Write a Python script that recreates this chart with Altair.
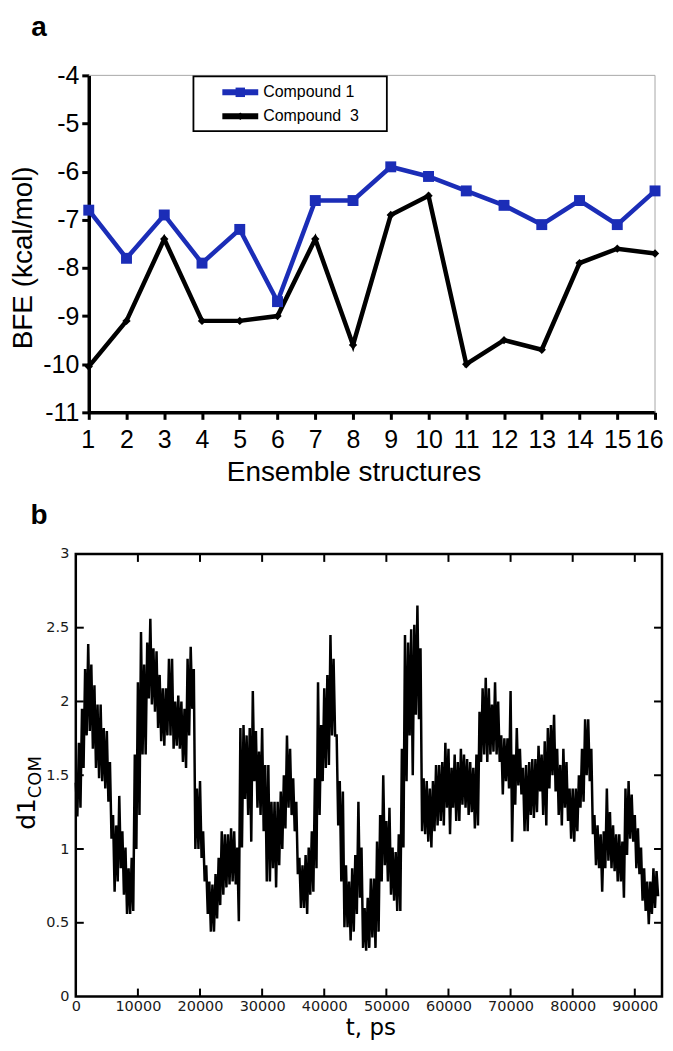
import altair as alt
import pandas as pd

# ---------------- panel a data ----------------
structures = list(range(1, 17))
compound1_bfe = [-6.8, -7.8, -6.9, -7.9, -7.2, -8.7, -6.6, -6.6,
                 -5.9, -6.1, -6.4, -6.7, -7.1, -6.6, -7.1, -6.4]
compound3_bfe = [-10.05, -9.1, -7.4, -9.1, -9.1, -9.0, -7.4, -9.6,
                 -6.9, -6.5, -10.0, -9.5, -9.7, -7.9, -7.6, -7.7]
series_names = ["Compound 1", "Compound\u00a0 3"]
series_colors = ["#1b2db7", "#000000"]
series_shapes = ["square", "diamond"]
bfe_ticks = [-4, -5, -6, -7, -8, -9, -10, -11]

# ---------------- panel b data ----------------
# d1_COM trace every 250 ps (alternating upper / lower excursions)
d1_com = [
    1.45, 1.22, 1.72, 1.28, 1.95, 1.55, 2.22, 1.77, 2.39, 1.80, 2.25, 1.68, 2.11, 1.55, 1.98, 1.48, 1.98, 1.46, 1.82, 1.41,
    1.80, 1.32, 1.59, 1.07, 1.23, 0.71, 1.16, 0.78, 1.36, 0.87, 1.12, 0.69, 1.01, 0.56, 0.87, 0.56, 0.94, 0.58, 1.64, 1.00,
    2.13, 1.23, 2.47, 1.64, 2.25, 1.64, 2.40, 2.02, 2.56, 1.98, 2.36, 1.93, 2.34, 1.82, 2.18, 1.73, 2.09, 1.70, 2.09, 1.77,
    2.29, 1.77, 2.29, 1.68, 2.00, 1.70, 2.04, 1.68, 2.00, 1.59, 1.95, 1.55, 2.29, 1.77, 2.37, 1.95, 2.22, 1.00, 1.41, 1.00,
    1.46, 0.94, 1.12, 0.78, 0.89, 0.56, 0.78, 0.44, 0.76, 0.44, 0.83, 0.53, 0.94, 0.62, 1.12, 0.69, 1.10, 0.74, 1.10, 0.76,
    1.14, 0.78, 1.12, 0.76, 1.01, 0.51, 1.82, 1.01, 1.84, 1.34, 1.77, 1.23, 1.82, 1.05, 2.07, 1.46, 1.80, 1.28, 1.66, 1.23,
    1.82, 1.12, 1.57, 0.78, 1.57, 0.78, 1.32, 0.87, 1.32, 0.74, 1.32, 0.89, 1.39, 1.00, 1.50, 1.14, 1.77, 1.28, 1.68, 1.23,
    1.48, 1.12, 1.32, 0.83, 0.94, 0.60, 0.89, 0.60, 0.96, 0.56, 1.01, 0.69, 1.12, 0.71, 1.48, 0.87, 2.13, 1.23, 1.84, 1.46,
    2.09, 1.55, 2.18, 1.57, 2.45, 1.77, 2.29, 1.77, 1.77, 1.16, 1.46, 0.78, 1.39, 0.47, 0.89, 0.47, 0.78, 0.38, 0.87, 0.44,
    0.96, 0.56, 1.32, 0.67, 1.01, 0.33, 0.60, 0.31, 0.67, 0.33, 0.80, 0.40, 0.80, 0.33, 1.05, 0.44, 1.23, 0.78, 1.50, 0.89,
    1.19, 0.78, 1.28, 0.69, 1.01, 0.65, 0.98, 0.58, 1.10, 0.58, 1.68, 1.01, 2.45, 1.46, 2.40, 1.77, 2.49, 1.50, 2.52, 1.91,
    2.65, 1.88, 2.36, 1.12, 1.48, 1.10, 1.46, 1.05, 1.41, 1.01, 1.46, 1.12, 1.57, 1.16, 1.57, 1.19, 1.59, 1.16, 1.72, 1.28,
    1.68, 1.10, 1.55, 1.28, 1.64, 1.19, 1.59, 1.19, 1.68, 1.30, 1.64, 1.28, 1.61, 1.23, 1.59, 1.25, 1.55, 1.14, 1.64, 1.16,
    1.93, 1.59, 2.09, 1.64, 2.16, 1.59, 2.09, 1.64, 1.98, 1.66, 2.13, 1.64, 2.00, 1.59, 1.77, 1.37, 1.75, 1.46, 1.75, 1.41,
    2.07, 1.05, 1.64, 1.30, 1.82, 1.43, 1.68, 1.37, 1.55, 1.12, 1.57, 1.12, 1.59, 1.23, 1.61, 1.21, 1.61, 1.25, 1.70, 1.39,
    1.64, 1.23, 1.73, 1.16, 1.82, 1.41, 1.84, 1.50, 1.91, 1.39, 1.68, 1.23, 1.57, 1.16, 1.68, 1.28, 1.59, 1.19, 1.41, 1.07,
    1.41, 1.05, 1.41, 1.12, 1.50, 1.28, 1.68, 1.32, 1.88, 1.50, 1.88, 1.46, 1.68, 1.10, 1.23, 0.89, 1.16, 0.87, 1.10, 0.71,
    1.12, 0.87, 1.41, 0.92, 1.25, 0.87, 1.16, 0.85, 1.10, 0.78, 1.10, 0.78, 1.05, 0.67, 1.41, 0.96, 1.46, 1.07, 1.37, 1.05,
    1.23, 0.87, 1.14, 0.83, 1.01, 0.65, 0.87, 0.58, 0.78, 0.49, 0.78, 0.56, 0.87, 0.60, 0.85, 0.68,
]
sample_step_ps = 250
t_tick_values = [0, 10000, 20000, 30000, 40000, 50000, 60000, 70000, 80000, 90000]
d1_tick_values = [0, 0.5, 1, 1.5, 2, 2.5, 3]
t_axis_max = 94380

# ---------------- sizes (both panels share the same left plot edge) ----------------
W1, H1 = 581, 338      # panel a group; its x range starts 13 px in
XA0 = 13
W2, H2 = 588, 444

one = pd.DataFrame({"k": [0]})

# ================= panel a =================
df_a = pd.DataFrame({
    "structure": structures * 2,
    "bfe": compound1_bfe + compound3_bfe,
    "series": [series_names[0]] * len(structures) + [series_names[1]] * len(structures),
})

xa = alt.X("structure:Q",
           scale=alt.Scale(domain=[1, 16], range=[XA0, W1], nice=False, zero=False),
           axis=alt.Axis(values=structures, title=None, grid=False, format="d",
                         labelFont="Liberation Sans", labelFontSize=25, labelColor="black",
                         labelPadding=8, labelFlush=True, labelFlushOffset=8, labelOverlap=False,
                         domainColor="black", domainWidth=3.5,
                         tickColor="black", tickWidth=3, tickSize=7))
ya = alt.Y("bfe:Q",
           scale=alt.Scale(domain=[-11, -4], nice=False, zero=False),
           axis=alt.Axis(values=bfe_ticks, title=None, grid=False, offset=-XA0,
                         labelExpr="'' + datum.value",
                         labelFont="Liberation Sans", labelFontSize=25, labelColor="black",
                         labelPadding=3, labelOverlap=False,
                         domainColor="black", domainWidth=3.5,
                         tickColor="black", tickWidth=3, tickSize=7))

color_a = alt.Color("series:N", scale=alt.Scale(domain=series_names, range=series_colors), legend=None)

frame_top = alt.Chart(one).mark_rule(color="#a8a8a8", strokeWidth=1).encode(
    x=alt.value(XA0), x2=alt.value(W1), y=alt.value(0))
frame_right = alt.Chart(one).mark_rule(color="#a8a8a8", strokeWidth=1).encode(
    x=alt.value(W1), y=alt.value(0), y2=alt.value(H1))

lines_a = alt.Chart(df_a).mark_line(strokeWidth=4.5).encode(x=xa, y=ya, color=color_a)
pts1 = alt.Chart(df_a).transform_filter(alt.datum.series == series_names[0]).mark_point(
    shape=series_shapes[0], filled=True, size=120, opacity=1, color=series_colors[0]).encode(x=xa, y=ya)
pts3 = alt.Chart(df_a).transform_filter(alt.datum.series == series_names[1]).mark_point(
    shape=series_shapes[1], filled=True, size=70, opacity=1, color=series_colors[1]).encode(x=xa, y=ya)

# legend box
leg_box = alt.Chart(one).mark_rect(fill="white", stroke="black", strokeWidth=1.8).encode(
    x=alt.value(118), x2=alt.value(312), y=alt.value(1), y2=alt.value(56))
leg_layers = [leg_box]
leg_rows = [17, 41]
leg_sizes = [90, 60]
for name, col, shp, yy, sz in zip(series_names, series_colors, series_shapes, leg_rows, leg_sizes):
    leg_layers.append(alt.Chart(one).mark_rule(color=col, strokeWidth=6).encode(
        x=alt.value(147), x2=alt.value(183), y=alt.value(yy)))
    leg_layers.append(alt.Chart(one).mark_point(shape=shp, filled=True, size=sz, opacity=1, color=col).encode(
        x=alt.value(165), y=alt.value(yy)))
    leg_layers.append(alt.Chart(one).mark_text(text=name, align="left", baseline="middle",
                                               font="Liberation Sans", fontSize=16, color="black").encode(
        x=alt.value(188), y=alt.value(yy)))

label_a = alt.Chart(one).mark_text(text="a", font="Liberation Sans", fontWeight="bold", fontSize=28,
                                   align="center", baseline="middle", color="black").encode(
    x=alt.value(-37), y=alt.value(-47))
ytitle_a = alt.Chart(one).mark_text(text="BFE (kcal/mol)", font="Liberation Sans", fontSize=28, angle=270,
                                    align="center", baseline="middle", color="black").encode(
    x=alt.value(-52), y=alt.value(183))
xtitle_a = alt.Chart(one).mark_text(text="Ensemble structures", font="Liberation Sans", fontSize=28,
                                    align="center", baseline="middle", color="black").encode(
    x=alt.value(279), y=alt.value(399))
anchor_a = alt.Chart(one).mark_rule(color="white", strokeWidth=1).encode(
    x=alt.value(-66), x2=alt.value(-66), y=alt.value(-65), y2=alt.value(422))

top = alt.layer(anchor_a, frame_top, frame_right, lines_a, pts1, pts3, *leg_layers,
                label_a, ytitle_a, xtitle_a).properties(
    width=W1, height=H1, view=alt.ViewBackground(stroke="transparent", strokeWidth=0))

# ================= panel b =================
df_b = pd.DataFrame({"t": [i * sample_step_ps for i in range(len(d1_com))], "d1": d1_com})

xb = alt.X("t:Q", scale=alt.Scale(domain=[0, t_axis_max], nice=False, zero=False),
           axis=alt.Axis(values=t_tick_values, format="d", title=None, grid=False, ticks=False, domain=False,
                         labelFont="DejaVu Sans", labelFontSize=14.5, labelColor="#1a1a1a",
                         labelPadding=3, labelFlush=False, labelOverlap=False))
yb = alt.Y("d1:Q", scale=alt.Scale(domain=[0, 3], nice=False, zero=False),
           axis=alt.Axis(values=d1_tick_values, format="~g", title=None, grid=False, ticks=False, domain=False,
                         labelFont="DejaVu Sans", labelFontSize=14.5, labelColor="#1a1a1a",
                         labelPadding=7, labelOverlap=False, labelFlush=False))

trace = alt.Chart(df_b).mark_line(color="black", strokeWidth=2.5).encode(x=xb, y=yb)

inner_t = pd.DataFrame({"t": t_tick_values[1:]})
inner_d = pd.DataFrame({"d1": d1_tick_values[1:-1]})
tk_bottom = alt.Chart(inner_t).mark_rule(color="black", strokeWidth=2).encode(
    x=xb, y=alt.value(H2), y2=alt.value(H2 - 8))
tk_top = alt.Chart(inner_t).mark_rule(color="black", strokeWidth=2).encode(
    x=xb, y=alt.value(0), y2=alt.value(8))
tk_left = alt.Chart(inner_d).mark_rule(color="black", strokeWidth=2).encode(
    y=yb, x=alt.value(0), x2=alt.value(8))
tk_right = alt.Chart(inner_d).mark_rule(color="black", strokeWidth=2).encode(
    y=yb, x=alt.value(W2), x2=alt.value(W2 - 8))

label_b = alt.Chart(one).mark_text(text="b", font="Liberation Sans", fontWeight="bold", fontSize=28,
                                   align="center", baseline="middle", color="black").encode(
    x=alt.value(-37), y=alt.value(-38))
ytitle_b1 = alt.Chart(one).mark_text(text="d1", font="DejaVu Sans", fontSize=25, angle=270,
                                     align="right", baseline="alphabetic", color="black").encode(
    x=alt.value(-41), y=alt.value(245))
ytitle_b2 = alt.Chart(one).mark_text(text="COM", font="DejaVu Sans", fontSize=18, angle=270,
                                     align="left", baseline="alphabetic", color="black").encode(
    x=alt.value(-35), y=alt.value(245))
xtitle_b = alt.Chart(one).mark_text(text="t, ps", font="DejaVu Sans", fontSize=23,
                                    align="center", baseline="alphabetic", color="black").encode(
    x=alt.value(296), y=alt.value(483))
anchor_b = alt.Chart(one).mark_rule(color="white", strokeWidth=1).encode(
    x=alt.value(-66), x2=alt.value(-66), y=alt.value(-55), y2=alt.value(-54))

bottom = alt.layer(anchor_b, trace, tk_bottom, tk_top, tk_left, tk_right,
                   label_b, ytitle_b1, ytitle_b2, xtitle_b).properties(
    width=W2, height=H2, view=alt.ViewBackground(stroke="black", strokeWidth=2.5))

chart = alt.ConcatChart(concat=[top, bottom], columns=1, spacing=0, align="none", bounds="full").properties(
    padding=0)

chart.save("out.html", embed_options={"renderer": "svg", "actions": False})
